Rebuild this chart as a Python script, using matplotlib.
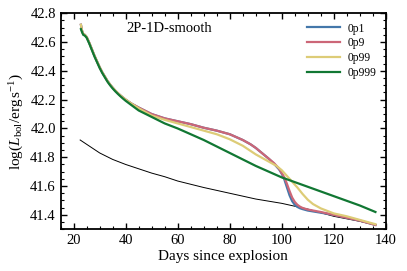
import matplotlib
matplotlib.use("Agg")
import matplotlib.pyplot as plt
from matplotlib.ticker import MultipleLocator

plt.rcParams['font.family'] = 'serif'
plt.rcParams['font.serif'] = ['Liberation Serif', 'DejaVu Serif']
plt.rcParams['mathtext.fontset'] = 'custom'
plt.rcParams['mathtext.rm'] = 'Liberation Serif'
plt.rcParams['mathtext.it'] = 'Liberation Serif:italic'

# early part shared by all four models
early_days = [22.8, 23.2, 23.7, 24.3, 25, 26, 27, 28, 29, 30, 31, 32, 33, 34, 35, 36, 37, 38, 39, 40, 42]
early_top = [42.72, 42.68, 42.655, 42.65, 42.635, 42.595, 42.55, 42.505, 42.465, 42.425, 42.39,
             42.36, 42.33, 42.305, 42.283, 42.263, 42.245, 42.229, 42.214, 42.2, 42.175]

days_p1 = early_days + [45, 50, 55, 60, 65, 70, 75, 80, 85, 88, 90, 93, 95, 97, 99, 100, 101,
                        102, 103, 104, 105, 106, 107, 108, 110, 115, 120, 125, 130, 136]
lum_p1 = early_top + [42.145, 42.1, 42.07, 42.05, 42.03, 42.005, 41.985, 41.96, 41.92, 41.89, 41.865,
                      41.82, 41.79, 41.755, 41.715, 41.685, 41.645, 41.59, 41.535, 41.495, 41.47,
                      41.455, 41.446, 41.44, 41.43, 41.415, 41.40, 41.38, 41.36, 41.33]

days_p9 = early_days + [45, 50, 55, 60, 65, 70, 75, 80, 85, 88, 90, 93, 95, 97, 99, 100, 101,
                        102, 103, 104, 105, 106, 107, 108, 110, 115, 120, 125, 130, 136]
lum_p9 = early_top + [42.145, 42.1, 42.07, 42.05, 42.03, 42.005, 41.985, 41.96, 41.92, 41.89, 41.865,
                      41.82, 41.79, 41.76, 41.72, 41.69, 41.66, 41.615, 41.565, 41.52, 41.49,
                      41.47, 41.457, 41.448, 41.437, 41.42, 41.40, 41.38, 41.36, 41.33]

days_p99 = early_days + [45, 50, 55, 60, 65, 70, 75, 80, 85, 90, 95, 98, 100, 102, 104, 106, 108,
                         110, 112, 115, 120, 125, 130, 136]
lum_p99 = early_top + [42.14, 42.09, 42.06, 42.035, 42.01, 41.985, 41.96, 41.925, 41.88, 41.82, 41.77,
                       41.74, 41.71, 41.67, 41.63, 41.59, 41.545, 41.505, 41.475, 41.445, 41.41,
                       41.39, 41.365, 41.335]

days_p999 = [22.8, 23.2, 23.7, 24.3, 25, 26, 27, 28, 29, 30, 31, 32, 33, 34, 35, 36, 37, 38, 39, 40,
             42, 45, 50, 55, 60, 65, 70, 80, 90, 100, 110, 120, 130, 136]
lum_p999 = [42.69, 42.67, 42.65, 42.645, 42.63, 42.59, 42.545, 42.50, 42.46, 42.42, 42.385,
            42.355, 42.325, 42.30, 42.278, 42.258, 42.24, 42.223, 42.207, 42.192,
            42.165, 42.125, 42.08, 42.035, 42.0, 41.96, 41.92, 41.83, 41.74, 41.66, 41.595,
            41.53, 41.465, 41.42]

days_ref = [22.5, 25, 30, 35, 40, 45, 50, 55, 60, 70, 80, 90, 100, 110, 120, 130, 136]
lum_ref = [41.92, 41.89, 41.83, 41.785, 41.75, 41.72, 41.69, 41.665, 41.635, 41.59, 41.55,
           41.51, 41.48, 41.44, 41.39, 41.355, 41.33]

fig = plt.figure(figsize=(4.07, 2.71), dpi=100)
ax = fig.add_axes([0.149, 0.154, 0.799, 0.797])

ax.plot(days_ref, lum_ref, color='black', lw=0.7)
ax.plot(days_p1, lum_p1, color='#4477AA', lw=1.6, label='0p1')
ax.plot(days_p9, lum_p9, color='#CC6677', lw=1.6, label='0p9')
ax.plot(days_p99, lum_p99, color='#DDCC77', lw=1.6, label='0p99')
ax.plot(days_p999, lum_p999, color='#117733', lw=1.6, label='0p999')

ax.set_xlim(15, 140)
ax.set_ylim(41.3, 42.8)
ax.xaxis.set_major_locator(MultipleLocator(20))
ax.xaxis.set_minor_locator(MultipleLocator(5))
ax.yaxis.set_major_locator(MultipleLocator(0.2))
ax.yaxis.set_minor_locator(MultipleLocator(0.05))
ax.tick_params(which='both', direction='in', top=True, right=True, labelsize=10.5)
ax.tick_params(which='major', length=4, width=1)
ax.tick_params(which='minor', length=2, width=0.8)
for s in ax.spines.values():
    s.set_linewidth(1.3)

ax.set_xlabel('Days since explosion', fontsize=11, labelpad=2)
ax.set_ylabel(r'$\log(L_{\rm bol}/{\rm erg\,s^{-1}})$', fontsize=11, labelpad=3)
ax.text(0.335, 0.93, '2P-1D-smooth', transform=ax.transAxes, ha='center', va='center', fontsize=10.5)

leg = ax.legend(loc='upper right', fontsize=8.3, frameon=False, handlelength=2.8,
                handletextpad=0.7, labelspacing=0.25, borderaxespad=0.4)

fig.savefig('out.png', dpi=100)
